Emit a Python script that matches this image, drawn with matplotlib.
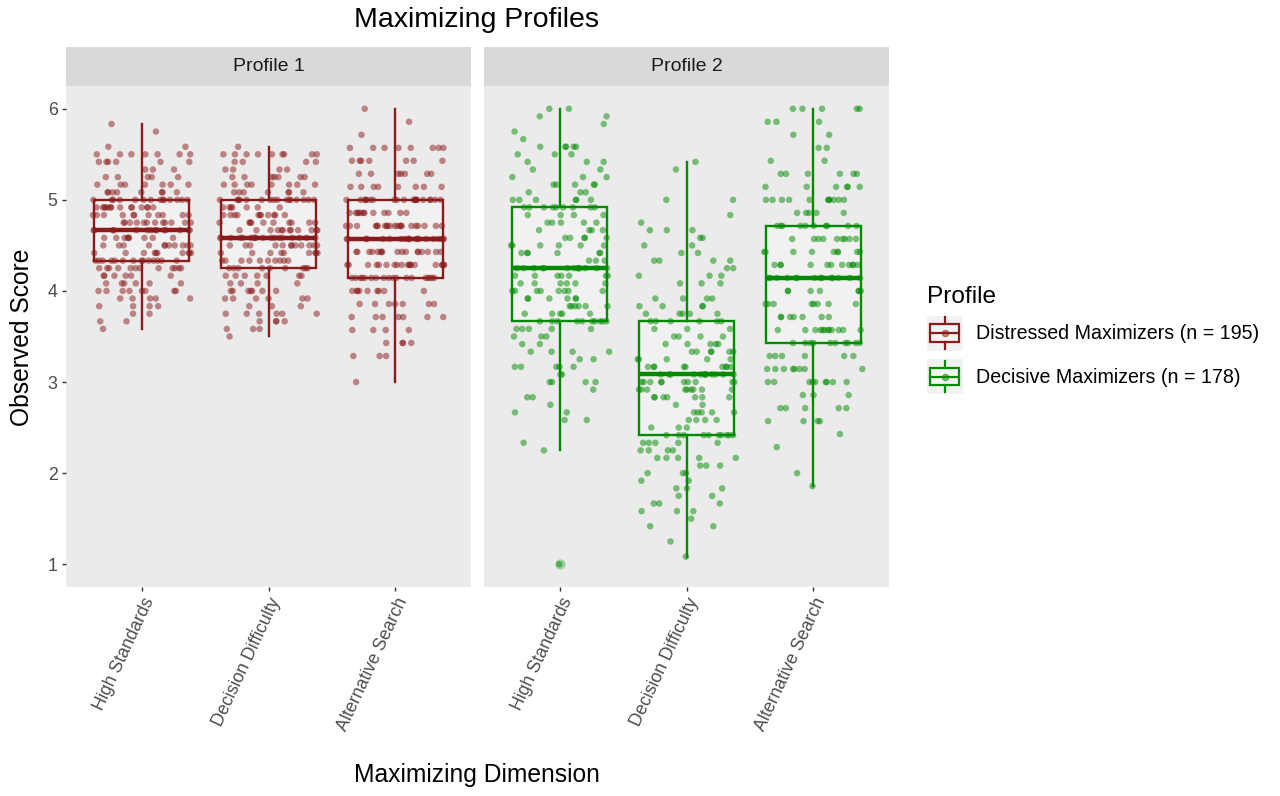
import numpy as np
import matplotlib.pyplot as plt
from matplotlib.patches import Rectangle, Patch
from matplotlib.lines import Line2D
from matplotlib.legend_handler import HandlerBase

plt.rcParams['font.family'] = ['Liberation Sans', 'DejaVu Sans']

#-------------------------------------------
# Data (scores, with how many respondents sit on each score)
#-------------------------------------------
dimensions = ["High Standards", "Decision Difficulty", "Alternative Search"]
panels = ["Profile 1", "Profile 2"]
legend_labels = ["Distressed Maximizers (n = 195)", "Decisive Maximizers (n = 178)"]
colors = ["#8B1A1A", "#008B00"]

# Profile 1 - Distressed Maximizers
p1_hs_scores = [5.833, 5.75, 5.583, 5.5, 5.417, 5.333, 5.25, 5.167, 5.083, 5.0, 4.917, 4.833, 4.75, 4.667,
                4.583, 4.5, 4.417, 4.333, 4.25, 4.167, 4.083, 4.0, 3.917, 3.833, 3.75, 3.667, 3.583]
p1_hs_counts = [1, 1, 2, 7, 6, 3, 5, 7, 8, 14, 14, 11, 12, 14,
                9, 11, 10, 14, 12, 6, 6, 8, 5, 4, 2, 2, 1]

p1_dd_scores = [5.583, 5.5, 5.417, 5.333, 5.25, 5.167, 5.083, 5.0, 4.917, 4.833, 4.75, 4.667, 4.583,
                4.5, 4.417, 4.333, 4.25, 4.167, 4.083, 4.0, 3.917, 3.833, 3.75, 3.667, 3.583, 3.5]
p1_dd_counts = [1, 9, 4, 4, 7, 8, 7, 16, 7, 11, 10, 12, 18,
                12, 9, 10, 9, 7, 4, 7, 6, 3, 6, 4, 3, 1]

p1_as_scores = [6.0, 5.857, 5.714, 5.571, 5.429, 5.286, 5.143, 5.0, 4.857, 4.714, 4.571,
                4.429, 4.286, 4.143, 4.0, 3.857, 3.714, 3.571, 3.429, 3.286, 3.0]
p1_as_counts = [1, 1, 1, 8, 7, 7, 8, 20, 12, 21, 20,
                17, 19, 18, 9, 7, 7, 4, 4, 3, 1]

# Profile 2 - Decisive Maximizers
p2_hs_scores = [6.0, 5.917, 5.833, 5.75, 5.667, 5.583, 5.5, 5.417, 5.333, 5.25, 5.167, 5.083, 5.0,
                4.917, 4.833, 4.75, 4.667, 4.583, 4.5, 4.417, 4.333, 4.25, 4.167, 4.083, 4.0,
                3.917, 3.833, 3.75, 3.667, 3.583, 3.5, 3.417, 3.333, 3.25, 3.167, 3.083, 3.0,
                2.917, 2.833, 2.75, 2.667, 2.583, 2.333, 2.25, 1.0]
p2_hs_counts = [2, 2, 1, 1, 1, 5, 3, 3, 2, 3, 5, 3, 6,
                9, 4, 5, 4, 5, 6, 6, 3, 13, 7, 6, 8,
                6, 6, 5, 10, 5, 3, 2, 4, 2, 5, 2, 4,
                1, 2, 1, 2, 2, 1, 1, 1]

p2_dd_scores = [5.417, 5.333, 5.0, 4.833, 4.75, 4.667, 4.583, 4.5, 4.417, 4.333, 4.25, 4.167, 4.083,
                3.917, 3.833, 3.75, 3.667, 3.583, 3.5, 3.417, 3.333, 3.25, 3.167, 3.083, 3.0,
                2.917, 2.833, 2.75, 2.667, 2.583, 2.5, 2.417, 2.333, 2.25, 2.167, 2.083, 2.0,
                1.917, 1.833, 1.75, 1.667, 1.583, 1.5, 1.417, 1.25, 1.083]
p2_dd_counts = [1, 1, 2, 1, 1, 3, 2, 2, 2, 4, 2, 3, 3,
                4, 4, 5, 6, 3, 4, 5, 6, 5, 9, 12, 10,
                9, 7, 2, 5, 4, 3, 10, 5, 4, 5, 3, 3,
                2, 3, 2, 3, 3, 1, 2, 1, 1]

p2_as_scores = [6.0, 5.857, 5.714, 5.571, 5.429, 5.286, 5.143, 5.0, 4.857, 4.714, 4.571, 4.429,
                4.286, 4.143, 4.0, 3.857, 3.714, 3.571, 3.429, 3.286, 3.143, 3.0, 2.857, 2.714,
                2.571, 2.429, 2.286, 2.0, 1.857]
p2_as_counts = [5, 3, 2, 2, 2, 6, 6, 11, 5, 10, 9, 9,
                11, 14, 7, 8, 7, 12, 10, 6, 8, 9, 3, 5,
                4, 1, 1, 1, 1]

groups = [
    [(p1_hs_scores, p1_hs_counts), (p1_dd_scores, p1_dd_counts), (p1_as_scores, p1_as_counts)],
    [(p2_hs_scores, p2_hs_counts), (p2_dd_scores, p2_dd_counts), (p2_as_scores, p2_as_counts)],
]


class BoxKeyHandler(HandlerBase):
    """Draws a small ggplot-like boxplot glyph as legend key."""
    def create_artists(self, legend, orig_handle, xdescent, ydescent, width, height, fontsize, trans):
        c = orig_handle.get_edgecolor()
        x0, y0 = -xdescent, -ydescent
        cx, cy = x0 + width / 2, y0 + height / 2
        bg = Rectangle((x0, y0), width, height, facecolor="#F2F2F2", edgecolor="none", transform=trans)
        box = Rectangle((x0 + 0.1 * width, y0 + 0.25 * height), 0.8 * width, 0.5 * height,
                        facecolor=(1, 1, 1, 0.3), edgecolor=c, lw=1.6, transform=trans)
        w1 = Line2D([cx, cx], [y0 + 0.05 * height, y0 + 0.25 * height], color=c, lw=1.6, transform=trans)
        w2 = Line2D([cx, cx], [y0 + 0.75 * height, y0 + 0.95 * height], color=c, lw=1.6, transform=trans)
        med = Line2D([x0 + 0.1 * width, x0 + 0.9 * width], [cy, cy], color=c, lw=1.6, transform=trans)
        pt = Line2D([cx], [cy], marker="o", markersize=4.5, color=c, alpha=0.5, lw=0, transform=trans)
        return [bg, box, w1, w2, med, pt]


def jitter(n, width=0.78):
    # deterministic hash-style spread, only used for horizontal placement
    k = np.arange(1, n + 1)
    h = np.sin(k * 12.9898 + n * 78.233) * 43758.5453
    return (h - np.floor(h) - 0.5) * width


fig = plt.figure(figsize=(12.8, 7.96), dpi=100)
panel_left = [66 / 1280, 484 / 1280]
panel_w = 405 / 1280
panel_b = 1 - 587 / 796
panel_h = (587 - 86) / 796
strip_h = 39 / 796

for p in range(2):
    ax = fig.add_axes([panel_left[p], panel_b, panel_w, panel_h])
    ax.set_facecolor("#EBEBEB")
    col = colors[p]
    data = [np.repeat(s, n) for s, n in groups[p]]

    ax.boxplot(data, positions=[1, 2, 3], widths=0.75, whis=1.5, patch_artist=True, showcaps=False,
               boxprops=dict(facecolor=(1, 1, 1, 0.3), edgecolor=col, linewidth=1.7),
               medianprops=dict(color=col, linewidth=3.2),
               whiskerprops=dict(color=col, linewidth=1.7),
               flierprops=dict(marker="o", markersize=7.5, markerfacecolor=col, markeredgecolor="none",
                               alpha=0.3),
               zorder=2)

    for i, vals in enumerate(data):
        offs = jitter(len(vals))
        ax.scatter(i + 1 + offs, vals, s=22, color=col, alpha=0.5, edgecolors="none", zorder=3)

    ax.set_xlim(0.4, 3.6)
    ax.set_ylim(0.75, 6.25)
    for s in ax.spines.values():
        s.set_visible(False)
    ax.set_xticks([1, 2, 3])
    ax.set_xticklabels(dimensions, rotation=65, ha="right", va="top", rotation_mode="anchor",
                       fontsize=12.8, color="#1A1A1A")
    ax.set_yticks([1, 2, 3, 4, 5, 6])
    ax.tick_params(length=3, width=1, color="#333333", labelcolor="#4D4D4D", labelsize=12.8, pad=3)
    if p == 1:
        ax.tick_params(axis="y", left=False, labelleft=False)

    # facet strip
    ax.add_patch(Rectangle((0, 1), 1, strip_h / panel_h, transform=ax.transAxes, clip_on=False,
                           facecolor="#D9D9D9", edgecolor="none"))
    ax.text(0.5, 1 + strip_h / panel_h / 2, panels[p], transform=ax.transAxes, ha="center",
            va="center", fontsize=14, color="#1A1A1A")

fig.text(477 / 1280, 1 - 20 / 796, "Maximizing Profiles", ha="center", va="center", fontsize=20.5)
fig.text(22 / 1280, 1 - 337 / 796, "Observed Score", rotation=90, ha="center", va="center", fontsize=17.7)
fig.text(477 / 1280, 1 - 775 / 796, "Maximizing Dimension", ha="center", va="center", fontsize=17.7)

handles = [Patch(edgecolor=c, facecolor="none") for c in colors]
leg = fig.legend(handles, legend_labels, loc="center left", bbox_to_anchor=(909 / 1280, 1 - 340 / 796),
                 title="Profile", frameon=False, fontsize=14.1, title_fontsize=17.6,
                 handler_map={Patch: BoxKeyHandler()}, handlelength=1.85, handleheight=2.4,
                 handletextpad=0.65, labelspacing=0.4, alignment="left")

plt.savefig("out.png", dpi=100)
